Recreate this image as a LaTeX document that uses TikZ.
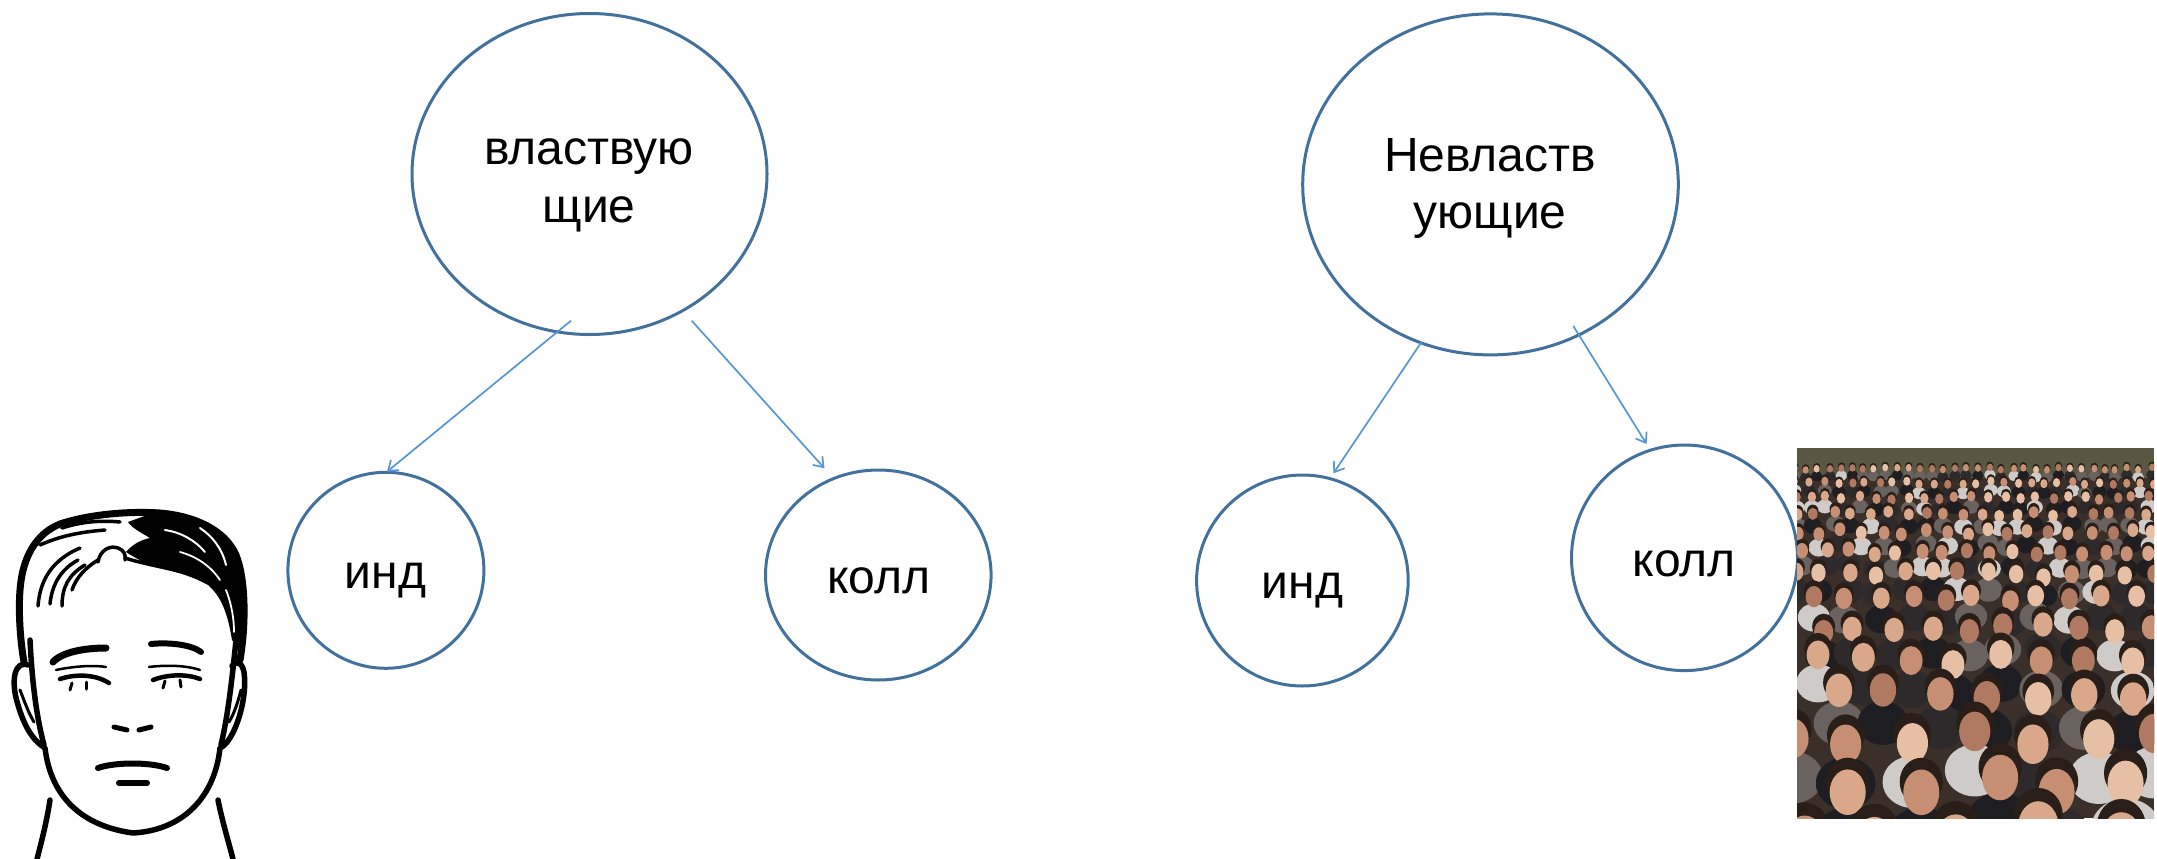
\documentclass[tikz,border=0pt]{standalone}
\usepackage{fontspec}
\setmainfont{Liberation Sans}
\usetikzlibrary{shapes.geometric,arrows.meta,calc}
\definecolor{ellcol}{HTML}{41719C}
\definecolor{arrcol}{HTML}{5596D8}
\definecolor{crowdbg}{HTML}{3B2F2A}
\definecolor{crowdtop}{HTML}{5A5842}
\definecolor{hairc}{HTML}{2A1E18}
\definecolor{skin1}{HTML}{D9A88A}
\definecolor{skin2}{HTML}{C68E72}
\definecolor{skin3}{HTML}{E6BFA5}
\definecolor{skin4}{HTML}{B07A62}
\definecolor{shirt1}{HTML}{1E1E22}
\definecolor{shirt2}{HTML}{2E2A2C}
\definecolor{shirt3}{HTML}{6A625E}
\definecolor{shirt4}{HTML}{CFCBC8}
\begin{document}
\begin{tikzpicture}[x=1pt,y=-1pt,
  ell/.style={ellipse, draw=ellcol, line width=3pt, inner sep=0pt},
  lbl/.style={font=\fontsize{48}{57.6}\selectfont, align=center, inner sep=0pt},
  conn/.style={draw=arrcol, line width=1.7pt, -{Straight Barb[length=9pt,width=13pt,line width=1.7pt]}},
  facel/.style={line width=5.5pt, line cap=round, line join=round},
  hairl/.style={line width=3.5pt, line cap=round, line join=round}]
\useasboundingbox (0,0) rectangle (2157,859);

% ellipses and circles
\node[ell, minimum width=355pt, minimum height=321pt] (e1) at (589.5,174) {};
\node[ell, minimum width=375.6pt, minimum height=341pt] (e2) at (1490.5,184.4) {};
\node[ell, minimum width=196pt, minimum height=196pt] (i1) at (385.9,570.3) {};
\node[ell, minimum width=225.6pt, minimum height=210pt] (k1) at (878.3,575) {};
\node[ell, minimum width=211.6pt, minimum height=211pt] (i2) at (1302.4,580.5) {};
\node[ell, minimum width=226pt, minimum height=225.6pt] (k2) at (1684.5,557.8) {};

% texts
\node[lbl] (t1) at (589,185.3) {властвую\\щие};
\node[lbl] (t2) at (1490,188.3) {Невластв\\ующие};
\node[lbl, anchor=base] (ti1) at (385.6,588.3) {инд};
\node[lbl, anchor=base] (tk1) at (878.8,593.3) {колл};
\node[lbl, anchor=base] (ti2) at (1302.6,598.3) {инд};
\node[lbl, anchor=base] (tk2) at (1684.2,576) {колл};

% connectors
\coordinate (s1) at ($(e1.center)+(-18.5,146.7)$);
\coordinate (d1) at ($(i1.center)+(1.1,-98.6)$);
\coordinate (s2) at ($(e1.center)+(102.2,146.7)$);
\coordinate (d2) at ($(k1.center)+(-53.8,-106.7)$);
\coordinate (s3) at ($(e2.center)+(-68.8,157.3)$);
\coordinate (d3) at ($(i2.center)+(31,-107.2)$);
\coordinate (s4) at ($(e2.center)+(82.8,141.6)$);
\coordinate (d4) at ($(k2.center)+(-37.9,-113.8)$);
\draw[conn] (s1) -- (d1);
\draw[conn] (s2) -- (d2);
\draw[conn] (s3) -- (d3);
\draw[conn] (s4) -- (d4);

% face drawing: hair
\draw[line width=7pt, line cap=round, line join=round] (24,662) .. controls (20,640) and (17,600) .. (22,575)
  .. controls (27,550) and (40,532) .. (60,524) .. controls (90,514) and (130,511) .. (160,513)
  .. controls (195,516) and (225,530) .. (236,555) .. controls (246,580) and (246,625) .. (240,660);
\fill[black] (150,514) .. controls (190,516) and (222,528) .. (236,555) .. controls (246,585) and (246,625) .. (240,650)
  -- (232,640) .. controls (228,615) and (222,597) .. (208,585) .. controls (190,575) and (170,570) .. (150,566)
  .. controls (140,560) and (132,556) .. (126,552) .. controls (132,545) and (140,540) .. (150,538)
  .. controls (140,532) and (132,528) .. (128,522) -- cycle;
\draw[white, line width=2pt, line cap=round] (165,530) .. controls (180,532) and (195,540) .. (205,552);
\draw[white, line width=2pt, line cap=round] (200,528) .. controls (212,536) and (222,548) .. (226,565);
\draw[white, line width=1.8pt, line cap=round] (180,552) .. controls (195,556) and (210,565) .. (220,580);
\draw[white, line width=1.8pt, line cap=round] (226,590) .. controls (232,605) and (234,620) .. (234,632);
\draw[hairl] (40,545) .. controls (60,536) and (80,532) .. (105,530);
\draw[hairl] (62,528) .. controls (80,522) and (100,520) .. (120,522);
\draw[hairl] (38,606) .. controls (40,580) and (52,560) .. (80,548);
\draw[hairl] (50,604) .. controls (52,585) and (60,570) .. (78,560);
\draw[hairl] (62,606) .. controls (62,588) and (68,575) .. (85,565);
\draw[hairl] (72,590) .. controls (76,578) and (85,568) .. (98,560);
\draw[hairl] (98,562) .. controls (100,550) and (110,545) .. (118,548) .. controls (124,550) and (126,555) .. (125,560);
\draw[hairl] (125,558) .. controls (150,566) and (185,570) .. (205,580);
% face outline, ears, neck
\draw[facel] (28,665) .. controls (15,660) and (10,680) .. (18,705) .. controls (24,725) and (32,740) .. (45,748)
  .. controls (50,790) and (75,825) .. (133,833) .. controls (185,830) and (215,795) .. (220,748)
  .. controls (234,742) and (248,700) .. (244,672) .. controls (242,662) and (236,660) .. (232,666);
\draw[facel] (30,640) .. controls (32,680) and (36,715) .. (44,745);
\draw[facel] (236,640) .. controls (232,680) and (228,715) .. (221,745);
\draw[line width=3pt, line cap=round] (20,690) .. controls (24,700) and (28,712) .. (34,722);
\draw[line width=3pt, line cap=round] (241,690) .. controls (238,702) and (234,714) .. (229,722);
\draw[facel] (50,800) .. controls (47,820) and (42,840) .. (37,859);
\draw[facel] (218,800) .. controls (222,820) and (228,840) .. (233,859);
% brows, eyes, nose, mouth
\draw[line width=7pt, line cap=round] (53,662) .. controls (62,652) and (85,648) .. (106,648);
\draw[line width=6pt, line cap=round] (151,644) .. controls (170,642) and (192,645) .. (201,652);
\draw[line width=2.5pt, line cap=round] (56,670) .. controls (75,666) and (95,665) .. (106,667);
\draw[line width=4.5pt, line cap=round] (60,679) .. controls (75,674) and (95,674) .. (109,683);
\draw[line width=2.5pt, line cap=round] (149,667) .. controls (165,665) and (185,665) .. (200,670);
\draw[line width=4.5pt, line cap=round] (153,680) .. controls (168,674) and (188,674) .. (200,679);
\draw[line width=3pt, line cap=round] (72,683) -- (70,690);
\draw[line width=3pt, line cap=round] (86,682) -- (86,689);
\draw[line width=3pt, line cap=round] (165,681) -- (163,688);
\draw[line width=3pt, line cap=round] (180,680) -- (181,687);
\draw[line width=5pt, line cap=round] (114,727) -- (127,730);
\draw[line width=5pt, line cap=round] (139,730) -- (151,727);
\draw[line width=6pt, line cap=round] (98,768) .. controls (115,762) and (150,762) .. (167,768);
\draw[line width=6pt, line cap=round] (119,783) -- (147,783);

% crowd photo
\begin{scope}
\clip (1797,448) rectangle (2154,818);
\fill[crowdbg] (1797,448) rectangle (2154,818);
\fill[crowdtop] (1797,448) rectangle (2154,478);
\pgfmathsetseed{12}
\foreach \yy/\ss in {468/5,482/6,497/7,513/8,531/9,551/10,573/12,598/14,626/16,658/19,694/22,736/26,783/30,832/34} {
  \pgfmathsetmacro\stp{2.3*\ss}
  \pgfmathsetmacro\xst{1790+rnd*\stp}
  \pgfmathsetmacro\xnd{\xst+\stp}
  \foreach \xx in {\xst,\xnd,...,2175} {
    \pgfmathsetmacro\px{\xx+0.3*rand*\ss}
    \pgfmathsetmacro\py{\yy+0.3*rand*\ss}
    \pgfmathtruncatemacro\k{random(1,4)}
    \pgfmathtruncatemacro\m{random(1,4)}
    \pgfmathsetmacro\by{\py+1.6*\ss}
    \pgfmathsetmacro\hy{\py-0.25*\ss}
    \pgfmathsetmacro\fy{\py+0.1*\ss}
    \fill[shirt\m] (\px,\by) ellipse ({1.15*\ss} and {1.0*\ss});
    \fill[hairc] (\px,\hy) ellipse ({0.72*\ss} and {0.8*\ss});
    \fill[skin\k] (\px,\fy) ellipse ({0.6*\ss} and {0.76*\ss});
  }
}
\end{scope}
\end{tikzpicture}
\end{document}
